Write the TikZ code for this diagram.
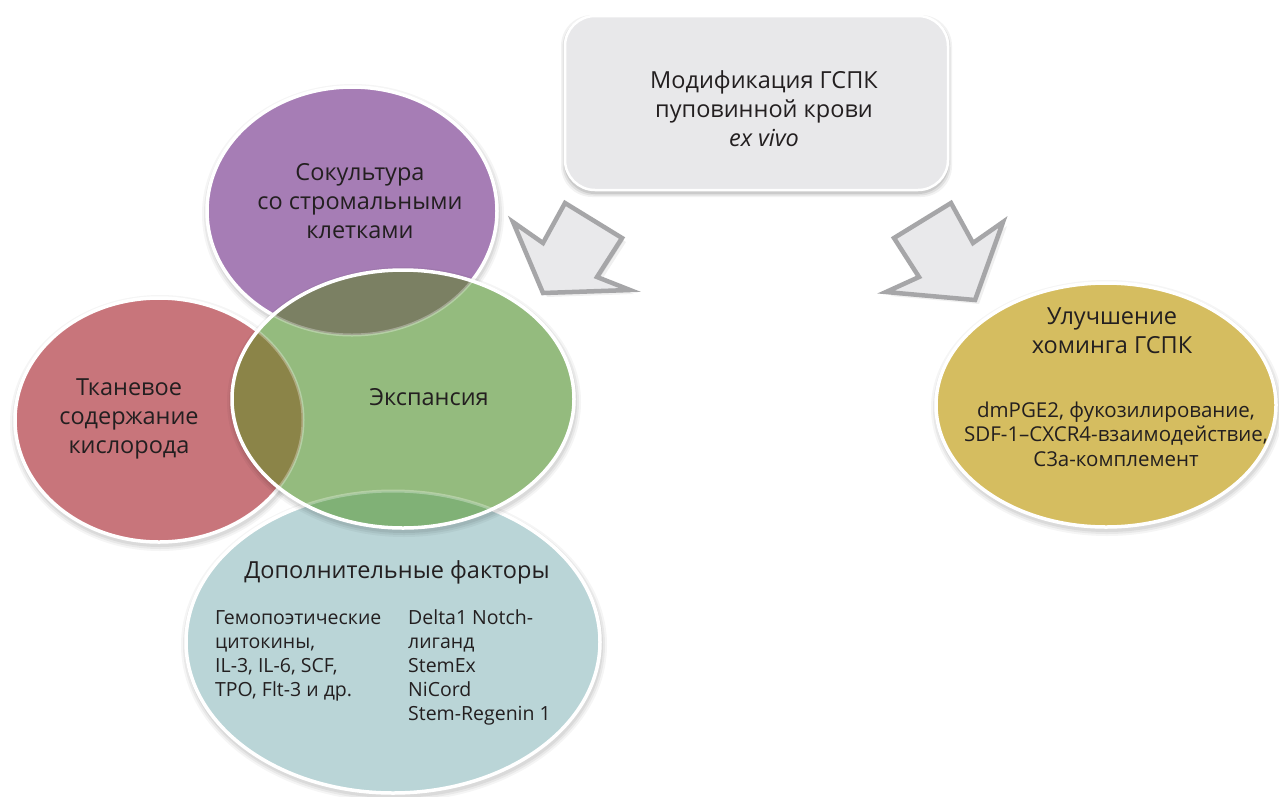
\documentclass[tikz,border=0pt]{standalone}
\usepackage{fontspec}
\setmainfont{Open Sans}
\definecolor{cPurple}{RGB}{166,125,181}
\definecolor{cRed}{RGB}{200,117,123}
\definecolor{cGreen}{RGB}{148,187,126}
\definecolor{cBlue}{RGB}{186,213,215}
\definecolor{cYellow}{RGB}{213,189,96}
\definecolor{cGP}{RGB}{123,128,99}
\definecolor{cGR}{RGB}{139,132,72}
\definecolor{cGB}{RGB}{128,177,118}
\definecolor{cBox}{RGB}{232,232,234}
\definecolor{cArrowFill}{RGB}{233,233,235}
\definecolor{cArrowLine}{RGB}{166,166,168}
\definecolor{cText}{RGB}{35,31,32}
\tikzset{
  bigtext/.style={align=center,text=cText,inner sep=0pt,font=\fontsize{23.5}{29}\selectfont},
  smalltext/.style={text=cText,inner sep=0pt,font=\fontsize{19.5}{24}\selectfont},
  smalltextY/.style={text=cText,inner sep=0pt,font=\fontsize{20.5}{24.5}\selectfont},
  rim/.style={draw=white,line width=3.5pt},
  blockarrow/.style={fill=cArrowFill,draw=cArrowLine,line width=4.5pt,line join=miter},
}
\begin{document}
\begin{tikzpicture}[x=1pt,y=-1pt]
\useasboundingbox (0,0) rectangle (1279,796);
\fill[white] (0,0) rectangle (1279,796);

% ---------- top box ----------
\foreach \d/\o in {4/0.05,2.5/0.07,1/0.09}
  \fill[black,opacity=\o,rounded corners=31pt] (565-\d,16-\d+3) rectangle (948+\d,190+\d+3);
\fill[cBox,rounded corners=30pt] (565,16) rectangle (948,190);
\draw[white,line width=2.5pt,rounded corners=30pt] (565,16) rectangle (948,190);
\node[bigtext] (box) at (764,109) {Модификация ГСПК\\пуповинной крови\\\textit{ex vivo}};

% ---------- block arrows ----------
\foreach \o/\s in {0.06/4,0.08/2}
  \fill[black,opacity=\o] (513+\s,222+\s) -- (543+\s,243+\s) -- (565+\s,203+\s) -- (622+\s,238+\s) -- (597+\s,277+\s) -- (630+\s,290+\s) -- (543+\s,293+\s) -- cycle;
\coordinate (la1) at (513,222);
\coordinate (la2) at (543,243);
\coordinate (la3) at (565,203);
\coordinate (la4) at (622,238);
\coordinate (la5) at (597,277);
\coordinate (la6) at (630,290);
\coordinate (la7) at (543,293);
\draw[blockarrow] (la1) -- (la2) -- (la3) -- (la4) -- (la5) -- (la6) -- (la7) -- cycle;

\foreach \o/\s in {0.06/4,0.08/2}
  \fill[black,opacity=\o] (1003+\s,222+\s) -- (973+\s,243+\s) -- (951+\s,203+\s) -- (894+\s,238+\s) -- (919+\s,277+\s) -- (886+\s,292+\s) -- (975+\s,300+\s) -- cycle;
\coordinate (ra1) at (1003,222);
\coordinate (ra2) at (973,243);
\coordinate (ra3) at (951,203);
\coordinate (ra4) at (894,238);
\coordinate (ra5) at (919,277);
\coordinate (ra6) at (886,292);
\coordinate (ra7) at (975,300);
\draw[blockarrow] (ra1) -- (ra2) -- (ra3) -- (ra4) -- (ra5) -- (ra6) -- (ra7) -- cycle;

% ---------- blue ----------
\foreach \d/\o in {6/0.04,4/0.05,2/0.06}
  \fill[black,opacity=\o] (394,645) ellipse [x radius={207+\d}, y radius={151+\d}];
\fill[cBlue] (393,642) ellipse [x radius=207, y radius=151];
\draw[rim] (393,642) ellipse [x radius=207, y radius=151];

% ---------- red ----------
\foreach \d/\o in {6/0.04,4/0.05,2/0.06}
  \fill[black,opacity=\o] (160,423) ellipse [x radius={144+\d}, y radius={122+\d}];
\fill[cRed] (159,420) ellipse [x radius=144, y radius=122];
\draw[rim] (159,420) ellipse [x radius=144, y radius=122];

% ---------- purple ----------
\foreach \d/\o in {6/0.04,4/0.05,2/0.06}
  \fill[black,opacity=\o] (353,214) ellipse [x radius={145+\d}, y radius={124+\d}];
\fill[cPurple] (352,211) ellipse [x radius=145, y radius=124];
\draw[rim] (352,211) ellipse [x radius=145, y radius=124];

% ---------- green (overlapping) ----------
\foreach \d/\o in {6/0.04,4/0.05,2/0.06}
  \fill[black,opacity=\o] (404,402) ellipse [x radius={171+\d}, y radius={129+\d}];
\fill[cGreen] (403,399) ellipse [x radius=171, y radius=129];
\begin{scope}
  \clip (403,399) ellipse [x radius=171, y radius=129];
  \fill[cGP] (352,211) ellipse [x radius=145, y radius=124];
  \fill[cGR] (159,420) ellipse [x radius=144, y radius=122];
  \fill[cGB] (393,642) ellipse [x radius=207, y radius=151];
  \draw[white,opacity=0.3,line width=3pt] (352,211) ellipse [x radius=145, y radius=124];
  \draw[white,opacity=0.3,line width=3pt] (159,420) ellipse [x radius=144, y radius=122];
  \draw[white,opacity=0.3,line width=3pt] (393,642) ellipse [x radius=207, y radius=151];
\end{scope}
\draw[rim] (403,399) ellipse [x radius=171, y radius=129];

% ---------- yellow ----------
\foreach \d/\o in {6/0.04,4/0.05,2/0.06}
  \fill[black,opacity=\o] (1107,408) ellipse [x radius={170+\d}, y radius={122+\d}];
\fill[cYellow] (1106,405) ellipse [x radius=170, y radius=122];
\draw[rim] (1106,405) ellipse [x radius=170, y radius=122];

% ---------- texts ----------
\node[bigtext] (coc) at (360,201) {Сокультура\\со стромальными\\клетками};
\node[bigtext] (oxy) at (129,419) {Тканевое\\содержание\\кислорода};
\node[bigtext] (exp) at (429,397) {Экспансия};
\node[bigtext] (add) at (397,572) {Дополнительные факторы};
\node[smalltext,align=left,anchor=west] (addl) at (215,656) {Гемопоэтические\\цитокины,\\IL-3, IL-6, SCF,\\TPO, Flt-3 и др.};
\node[smalltext,align=left,anchor=west] (addr) at (408,667) {Delta1 Notch-\\лиганд\\StemEx\\NiCord\\Stem-Regenin 1};
\node[bigtext] (hom) at (1112,331) {Улучшение\\хоминга ГСПК};
\node[smalltextY,align=center] (homl) at (1116,434) {dmPGE2, фукозилирование,\\SDF-1--CXCR4-взаимодействие,\\C3a-комплемент};

\end{tikzpicture}
\end{document}
